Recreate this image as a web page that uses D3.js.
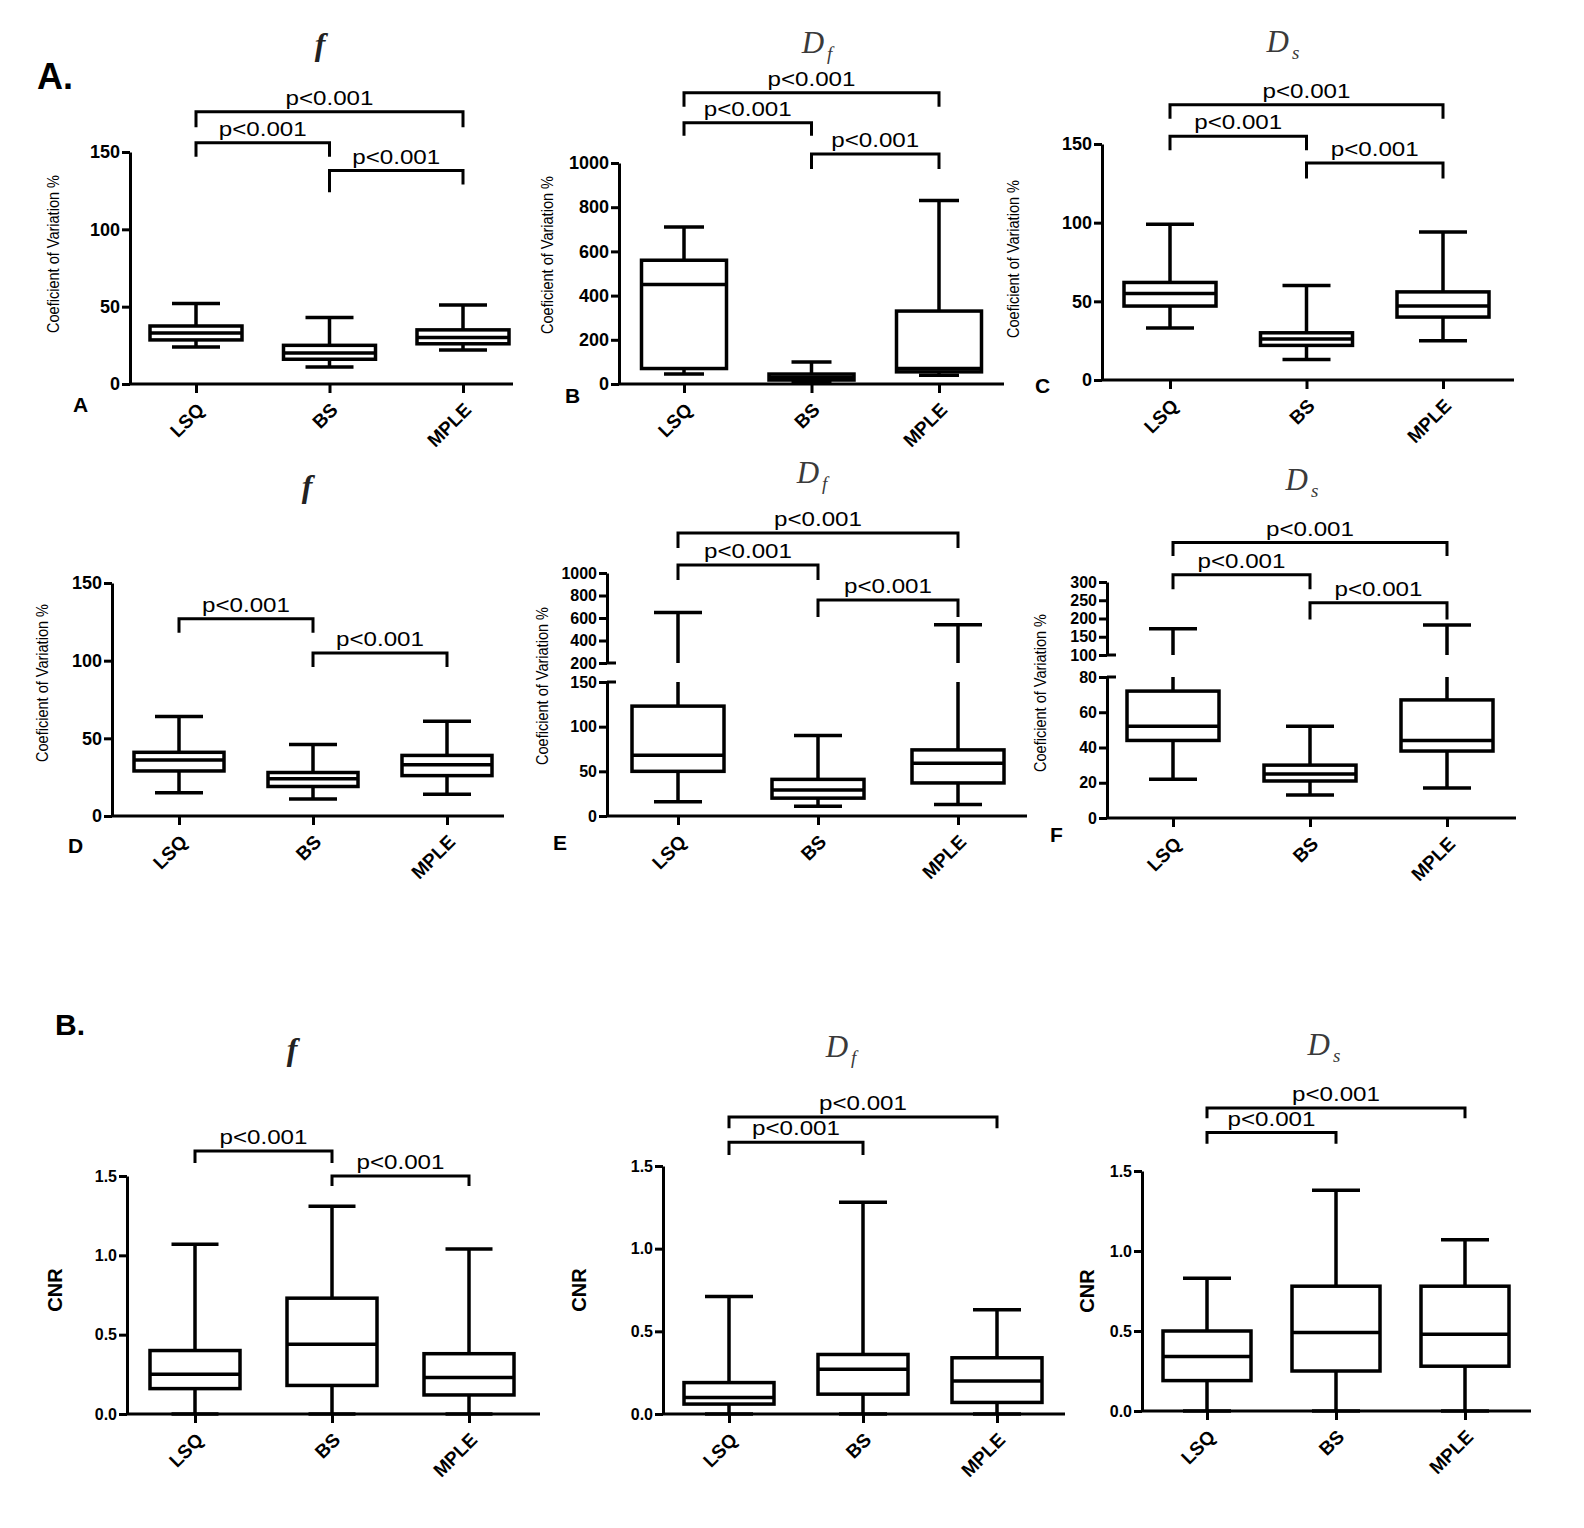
<!DOCTYPE html>
<html>
<head>
<meta charset="utf-8">
<script src="https://cdn.jsdelivr.net/npm/d3@7"></script>
<style>
body { margin: 0; background: #fff; }
svg text { font-family: "Liberation Sans", Arial, sans-serif; fill: #000; }
.axis .domain, .axis .tick line { stroke: #000; stroke-width: 3; }
</style>
</head>
<body>
<svg id="fig" width="1584" height="1528"></svg>
<script>
const groups = ["LSQ", "BS", "MPLE"];

// five-number summaries per group: [whisker low, Q1, median, Q3, whisker high]
const cvF   = [[24, 28.5, 33, 37.5, 52], [11, 16, 20, 25, 43], [22, 26, 30, 35, 51]];
const cvDf  = [[45, 70, 450, 560, 710], [8, 18, 30, 45, 100], [40, 55, 70, 330, 830]];
const cvDs  = [[33, 47, 55, 62, 99], [13, 22, 26, 30, 60], [25, 40, 47, 56, 94]];
const cv2F  = [[15, 29, 36, 41, 64], [11, 19, 24, 28, 46], [14, 26, 33, 39, 61]];
const cv2Df = [[16, 50, 68, 123, 650], [11, 20, 29, 41, 90], [13, 37, 59, 74, 540]];
const cv2Ds = [[22, 44, 52, 72, 172], [13, 21, 25, 30, 52], [17, 38, 44, 67, 182]];
const cnrF  = [[0, 0.16, 0.25, 0.40, 1.07], [0, 0.18, 0.44, 0.73, 1.31], [0, 0.12, 0.23, 0.38, 1.04]];
const cnrDf = [[0, 0.06, 0.10, 0.19, 0.71], [0, 0.12, 0.27, 0.36, 1.28], [0, 0.07, 0.20, 0.34, 0.63]];
const cnrDs = [[0, 0.19, 0.34, 0.50, 0.83], [0, 0.25, 0.49, 0.78, 1.38], [0, 0.28, 0.48, 0.78, 1.07]];

// tick values
const ticks150 = [0, 50, 100, 150];
const ticks1000 = [0, 200, 400, 600, 800, 1000];
const ticksDfBroken = [0, 50, 100, 150, 200, 400, 600, 800, 1000];
const ticksDsBroken = [0, 20, 40, 60, 80, 100, 150, 200, 250, 300];
const ticksCnr = [0, 0.5, 1.0, 1.5];

// significance brackets: [from group, to group, bar value, left end, right end]
const brkA  = [[0, 2, 176, 166, 166], [0, 1, 156, 147, 147], [1, 2, 138, 124, 129]];
const brkB  = [[0, 2, 1318, 1255, 1255], [0, 1, 1182, 1123, 1123], [1, 2, 1041, 973, 973]];
const brkC  = [[0, 2, 175, 166, 166], [0, 1, 155, 146, 146], [1, 2, 138, 128, 128]];
const brkD  = [[0, 1, 127, 118, 118], [1, 2, 105, 96, 96]];
const brkE  = [[0, 2, 1356, 1222, 1222], [0, 1, 1071, 938, 938], [1, 2, 760, 609, 609]];
const brkF  = [[0, 2, 408, 371, 371], [0, 1, 320, 280, 280], [1, 2, 243, 197, 197]];
const brkBf = [[0, 1, 1.658, 1.582, 1.582], [1, 2, 1.50, 1.437, 1.437]];
const brkBdf = [[0, 2, 1.796, 1.729, 1.729], [0, 1, 1.644, 1.566, 1.566]];
const brkBds = [[0, 2, 1.894, 1.83, 1.83], [0, 1, 1.74, 1.67, 1.67]];

const pText = "p<0.001";
const cvLabel = "Coeficient of Variation %";

const fmtInt = d3.format("d");
const fmtOne = d3.format(".1f");

const panels = [
    {data: cvF, brk: brkA, yDomain: [0, 150], yRange: [384, 152], ticks: ticks150, fmt: fmtInt,
     xRange: [196, 463], axisX: 130, axisEnd: 513, box: 92, cap: 48, tickFont: 18,
     title: ["f"], titleAt: [320, 55], letter: "A", letterAt: [73, 412], yLabel: cvLabel, yLabelAt: [53, 254]},
    {data: cvDf, brk: brkB, yDomain: [0, 1000], yRange: [384, 163], ticks: ticks1000, fmt: fmtInt,
     xRange: [684, 939], axisX: 619, axisEnd: 1004, box: 85, cap: 40, tickFont: 18,
     title: ["D", "f"], titleAt: [817, 53], letter: "B", letterAt: [565, 403], yLabel: cvLabel, yLabelAt: [547, 255]},
    {data: cvDs, brk: brkC, yDomain: [0, 150], yRange: [380, 144], ticks: ticks150, fmt: fmtInt,
     xRange: [1170, 1443], axisX: 1102, axisEnd: 1514, box: 92, cap: 48, tickFont: 18,
     title: ["D", "s"], titleAt: [1283, 52], letter: "C", letterAt: [1035, 393], yLabel: cvLabel, yLabelAt: [1013, 259]},
    {data: cv2F, brk: brkD, yDomain: [0, 150], yRange: [816, 583], ticks: ticks150, fmt: fmtInt,
     xRange: [179, 447], axisX: 112, axisEnd: 504, box: 90, cap: 48, tickFont: 18,
     title: ["f"], titleAt: [307, 497], letter: "D", letterAt: [68, 853], yLabel: cvLabel, yLabelAt: [42, 683]},
    {data: cv2Df, brk: brkE, yDomain: [0, 150, 200, 1000], yRange: [816, 682, 663, 573], ticks: ticksDfBroken, fmt: fmtInt,
     xRange: [678, 958], axisX: 607, axisEnd: 1027, box: 92, cap: 48, tickFont: 16,
     title: ["D", "f"], titleAt: [812, 483], letter: "E", letterAt: [553, 850], yLabel: cvLabel, yLabelAt: [542, 686]},
    {data: cv2Ds, brk: brkF, yDomain: [0, 80, 100, 300], yRange: [818, 677, 655, 582], ticks: ticksDsBroken, fmt: fmtInt,
     xRange: [1173, 1447], axisX: 1107, axisEnd: 1516, box: 92, cap: 48, tickFont: 16,
     title: ["D", "s"], titleAt: [1302, 490], letter: "F", letterAt: [1050, 842], yLabel: cvLabel, yLabelAt: [1040, 693]},
    {data: cnrF, brk: brkBf, yDomain: [0, 1.5], yRange: [1414, 1176], ticks: ticksCnr, fmt: fmtOne,
     xRange: [195, 469], axisX: 127, axisEnd: 540, box: 90, cap: 47, tickFont: 16,
     title: ["f"], titleAt: [292, 1060], letter: null, yLabel: "CNR", yLabelAt: [55, 1290]},
    {data: cnrDf, brk: brkBdf, yDomain: [0, 1.5], yRange: [1414, 1166], ticks: ticksCnr, fmt: fmtOne,
     xRange: [729, 997], axisX: 663, axisEnd: 1065, box: 90, cap: 48, tickFont: 16,
     title: ["D", "f"], titleAt: [841, 1057], letter: null, yLabel: "CNR", yLabelAt: [579, 1290]},
    {data: cnrDs, brk: brkBds, yDomain: [0, 1.5], yRange: [1411, 1171], ticks: ticksCnr, fmt: fmtOne,
     xRange: [1207, 1465], axisX: 1142, axisEnd: 1531, box: 88, cap: 48, tickFont: 16,
     title: ["D", "s"], titleAt: [1324, 1055], letter: null, yLabel: "CNR", yLabelAt: [1087, 1291]}
];

const svg = d3.select("#fig");

// section labels
svg.append("text").attr("x", 37).attr("y", 89).attr("font-size", 36).attr("font-weight", "bold").text("A.");
svg.append("text").attr("x", 55).attr("y", 1035).attr("font-size", 30).attr("font-weight", "bold").text("B.");

function vSegments(lo, hi, gap) {
    // vertical whisker pieces, skipping the axis break
    if (!gap || hi <= gap[0] || lo >= gap[1]) return [[lo, hi]];
    const segs = [];
    if (lo < gap[0]) segs.push([lo, gap[0]]);
    if (hi > gap[1]) segs.push([gap[1], hi]);
    return segs;
}

function drawPanel(p) {
    const g = svg.append("g");
    const y = d3.scaleLinear().domain(p.yDomain).range(p.yRange);
    const x = d3.scalePoint().domain(groups).range(p.xRange);
    const broken = p.yDomain.length === 4;
    const gap = broken ? [p.yDomain[1], p.yDomain[2]] : null;
    const y0 = y(0);

    // y axis (split into two pieces when broken)
    const pieces = broken ? [[p.yDomain[0], p.yDomain[1]], [p.yDomain[2], p.yDomain[3]]]
                          : [[p.yDomain[0], p.yDomain[1]]];
    pieces.forEach(s => {
        const sub = d3.scaleLinear().domain(s).range([y(s[0]), y(s[1])]);
        g.append("g")
            .attr("class", "axis")
            .attr("transform", `translate(${p.axisX},0)`)
            .call(d3.axisLeft(sub)
                .tickValues(p.ticks.filter(t => t >= s[0] && t <= s[1]))
                .tickSize(8).tickSizeOuter(0).tickPadding(2).tickFormat(p.fmt))
            .call(a => a.selectAll("text")
                .attr("font-size", p.tickFont).attr("font-weight", "bold")
                .attr("font-family", "'Liberation Sans', Arial, sans-serif"));
    });
    if (broken) {
        gap.forEach(v => {
            g.append("line")
                .attr("x1", p.axisX).attr("x2", p.axisX + 9)
                .attr("y1", y(v)).attr("y2", y(v))
                .attr("stroke", "#000").attr("stroke-width", 3);
        });
    }

    // x axis
    g.append("line")
        .attr("x1", p.axisX).attr("x2", p.axisEnd)
        .attr("y1", y0).attr("y2", y0)
        .attr("stroke", "#000").attr("stroke-width", 3);
    g.append("g")
        .attr("class", "axis")
        .attr("transform", `translate(0,${y0})`)
        .call(d3.axisBottom(x).tickSize(9).tickSizeOuter(0))
        .call(a => a.select(".domain").remove())
        .call(a => a.selectAll("text")
            .attr("y", 0).attr("dy", 0)
            .attr("transform", "translate(9,27) rotate(-45)")
            .attr("text-anchor", "end")
            .attr("font-size", 19).attr("font-weight", "bold")
            .attr("font-family", "'Liberation Sans', Arial, sans-serif"));

    // boxes
    const boxes = g.selectAll(".box")
        .data(p.data)
        .enter()
        .append("g")
        .attr("class", "box");

    boxes.each(function(d, i) {
        const b = d3.select(this);
        const cx = x(groups[i]);
        const [lo, q1, med, q3, hi] = d;
        vSegments(q3, hi, gap).concat(vSegments(lo, q1, gap)).forEach(s => {
            b.append("line")
                .attr("x1", cx).attr("x2", cx)
                .attr("y1", y(s[0])).attr("y2", y(s[1]))
                .attr("stroke", "#000").attr("stroke-width", 3.5);
        });
        [lo, hi].forEach(v => {
            b.append("line")
                .attr("x1", cx - p.cap / 2).attr("x2", cx + p.cap / 2)
                .attr("y1", y(v)).attr("y2", y(v))
                .attr("stroke", "#000").attr("stroke-width", 3.5);
        });
        b.append("rect")
            .attr("x", cx - p.box / 2)
            .attr("y", y(q3))
            .attr("width", p.box)
            .attr("height", y(q1) - y(q3))
            .attr("fill", "#fff")
            .attr("stroke", "#000")
            .attr("stroke-width", 3.5);
        b.append("line")
            .attr("x1", cx - p.box / 2).attr("x2", cx + p.box / 2)
            .attr("y1", y(med)).attr("y2", y(med))
            .attr("stroke", "#000").attr("stroke-width", 3.5);
    });

    // significance brackets
    p.brk.forEach(([i, j, bar, endL, endR]) => {
        const x1 = x(groups[i]), x2 = x(groups[j]);
        g.append("path")
            .attr("d", `M${x1},${y(endL)}V${y(bar)}H${x2}V${y(endR)}`)
            .attr("fill", "none")
            .attr("stroke", "#000")
            .attr("stroke-width", 3);
        g.append("text")
            .attr("x", (x1 + x2) / 2)
            .attr("y", y(bar) - 7)
            .attr("text-anchor", "middle")
            .attr("font-size", 20)
            .attr("textLength", 88)
            .attr("lengthAdjust", "spacingAndGlyphs")
            .text(pText);
    });

    // y axis title
    const yl = g.append("text")
        .attr("transform", `translate(${p.yLabelAt[0]},${p.yLabelAt[1]}) rotate(-90)`)
        .attr("text-anchor", "middle")
        .attr("dominant-baseline", "central")
        .text(p.yLabel);
    if (p.yLabel === "CNR") {
        yl.attr("font-size", 20).attr("font-weight", "bold");
    } else {
        yl.attr("font-size", 16)
            .attr("textLength", 158)
            .attr("lengthAdjust", "spacingAndGlyphs");
    }

    // panel title
    const t = g.append("text")
        .attr("x", p.titleAt[0])
        .attr("y", p.titleAt[1])
        .attr("text-anchor", "middle")
        .style("font-family", "'Liberation Serif', 'DejaVu Serif', serif")
        .style("font-style", "italic")
        .style("fill", "#3a3a3a");
    if (p.title.length === 1) {
        t.attr("font-size", 32).style("font-weight", "bold").style("fill", "#222").text(p.title[0]);
    } else {
        t.append("tspan").attr("font-size", 31).text(p.title[0]);
        t.append("tspan").attr("font-size", 19).attr("dx", 3).attr("dy", 7).text(p.title[1]);
    }

    // panel letter
    if (p.letter) {
        g.append("text")
            .attr("x", p.letterAt[0])
            .attr("y", p.letterAt[1])
            .attr("font-size", 21)
            .attr("font-weight", "bold")
            .text(p.letter);
    }
}

panels.forEach(drawPanel);
</script>
</body>
</html>
